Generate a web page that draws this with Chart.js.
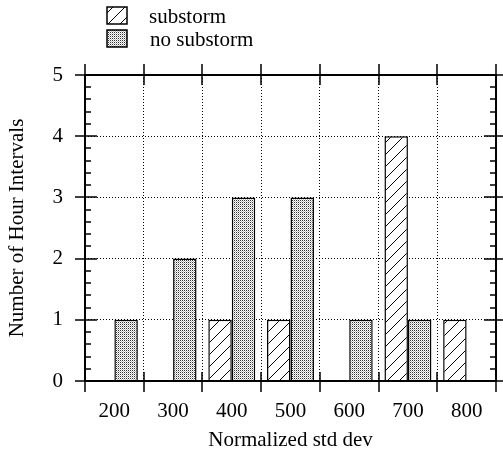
<!DOCTYPE html>
<html>
<head>
<meta charset="utf-8">
<script src="https://cdn.jsdelivr.net/npm/chart.js@4.4.1/dist/chart.umd.min.js"></script>
<style>
html,body{margin:0;padding:0;background:#fff}
#wrap{width:503px;height:453px}
</style>
</head>
<body>
<div id="wrap"><canvas id="c" width="503" height="453"></canvas></div>
<script>
const categories = ['200','300','400','500','600','700','800']
const substorm = [0,0,1,1,0,4,1]
const noSubstorm = [1,2,3,3,1,1,0]
const seriesNames = ['substorm','no substorm']
const yMax = 5

const 字体 = "'Liberation Serif', 'Times New Roman', serif"
const 字号 = 21

function 斜线图案(){
  const c = document.createElement('canvas')
  c.width = 12; c.height = 12
  const g = c.getContext('2d')
  g.fillStyle = '#fff'; g.fillRect(0,0,12,12)
  g.strokeStyle = '#000'; g.lineWidth = 1
  g.beginPath()
  g.moveTo(-1,13); g.lineTo(13,-1)
  g.moveTo(-1,1); g.lineTo(1,-1)
  g.moveTo(11,13); g.lineTo(13,11)
  g.stroke()
  return g.createPattern(c,'repeat')
}

function 点状图案(){
  const c = document.createElement('canvas')
  c.width = 2; c.height = 2
  const g = c.getContext('2d')
  g.fillStyle = '#fff'; g.fillRect(0,0,2,2)
  g.fillStyle = '#333'; g.fillRect(0,0,1,1)
  g.fillStyle = '#bbb'; g.fillRect(1,1,1,1)
  return g.createPattern(c,'repeat')
}

const 斜线 = 斜线图案()
const 点状 = 点状图案()

// 边框、刻度和图例
const 边框插件 = {
  id:'边框',
  afterDatasetsDraw(chart){
    const ctx = chart.ctx
    const a = chart.chartArea
    const y = chart.scales.y
    const n = categories.length
    const w = (a.right-a.left)/n
    ctx.save()
    ctx.strokeStyle = '#000'
    ctx.lineWidth = 2
    ctx.strokeRect(a.left, a.top, a.right-a.left, a.bottom-a.top)
    ctx.lineWidth = 1.5
    ctx.beginPath()
    for(let i=0;i<=n;i++){
      const x = Math.round(a.left+i*w)
      ctx.moveTo(x,a.bottom-9); ctx.lineTo(x,a.bottom+11)
      ctx.moveTo(x,a.top-11); ctx.lineTo(x,a.top+10)
    }
    for(let v=0;v<=yMax;v++){
      const py = Math.round(y.getPixelForValue(v))
      ctx.moveTo(a.left-10,py); ctx.lineTo(a.left+12,py)
      ctx.moveTo(a.right-12,py); ctx.lineTo(a.right+10,py)
    }
    for(let v=0;v<yMax*5;v++){
      if(v%5===0) continue
      const py = Math.round(y.getPixelForValue(v/5))
      ctx.moveTo(a.left,py); ctx.lineTo(a.left+6,py)
      ctx.moveTo(a.right-6,py); ctx.lineTo(a.right,py)
    }
    ctx.stroke()

    // 图例
    ctx.font = 字号 + 'px ' + 字体
    ctx.textBaseline = 'middle'
    chart.data.datasets.forEach((ds,i)=>{
      const by = 7 + i*23
      ctx.fillStyle = ds.backgroundColor
      ctx.fillRect(107,by,20,17)
      ctx.lineWidth = 1.5
      ctx.strokeStyle = '#000'
      ctx.strokeRect(107,by,20,17)
      ctx.fillStyle = '#000'
      ctx.fillText(ds.label, 149+i*1, by+10)
    })
    ctx.restore()
  }
}

new Chart(document.getElementById('c'),{
  type:'bar',
  data:{
    labels:categories,
    datasets:[
      {label:seriesNames[0],data:substorm,backgroundColor:斜线,borderColor:'#000',borderWidth:1.5,categoryPercentage:0.8,barPercentage:1.0},
      {label:seriesNames[1],data:noSubstorm,backgroundColor:点状,borderColor:'#000',borderWidth:1.5,categoryPercentage:0.8,barPercentage:1.0}
    ]
  },
  options:{
    responsive:false,
    animation:false,
    devicePixelRatio:1,
    layout:{padding:{top:75,right:7,left:0,bottom:0}},
    plugins:{legend:{display:false},tooltip:{enabled:false}},
    scales:{
      x:{
        offset:true,
        grid:{offset:true,color:'#000',lineWidth:1,drawTicks:false},
        border:{display:false,dash:[1,2]},
        ticks:{color:'#000',font:{family:字体,size:字号},padding:18},
        title:{display:true,text:'Normalized std dev',color:'#000',font:{family:字体,size:字号},padding:{top:0,bottom:0}},
        afterFit(s){ s.height = 72 }
      },
      y:{
        min:0,max:yMax,
        grid:{color:'#000',lineWidth:1,drawTicks:false},
        border:{display:false,dash:[1,2]},
        ticks:{stepSize:1,color:'#000',font:{family:字体,size:字号},padding:22},
        title:{display:true,text:'Number of Hour Intervals',color:'#000',font:{family:字体,size:字号},padding:{top:5,bottom:0}},
        afterFit(s){ s.width = 85 }
      }
    }
  },
  plugins:[边框插件]
})
</script>
</body>
</html>
